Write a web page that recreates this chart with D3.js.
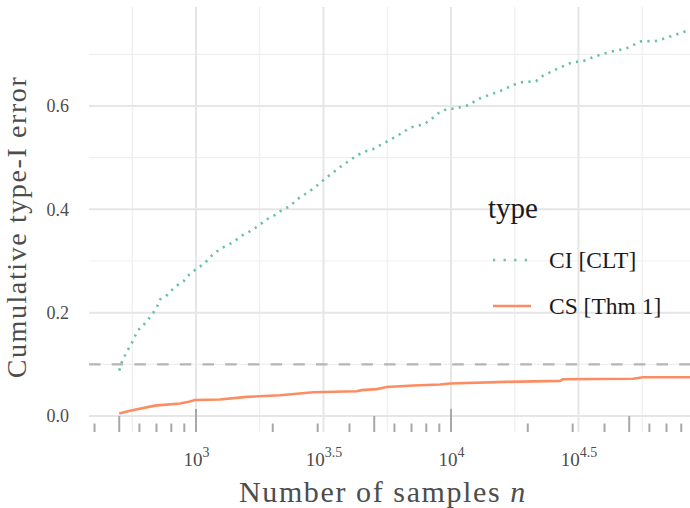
<!DOCTYPE html>
<html lang="en">
<head>
    <meta charset="UTF-8">
    <title>Cumulative type-I error</title>
    <script src="https://d3js.org/d3.v7.min.js"></script>
    <style>
        body{ margin: 0; background: #fff; }
        svg text{ font-family: "Liberation Serif", "DejaVu Serif", serif; }
        .grid-major{ stroke: #e6e6e6; stroke-width: 2; }
        .grid-minor{ stroke: #efefef; stroke-width: 1.2; }
    </style>
</head>
<body>
    <svg id='chart' width="690" height="508"></svg>

    <script>
        // data
        let ciN = [500, 514, 535, 560, 582, 609, 631, 666, 699, 724, 763, 805, 856, 895, 942,
            1006, 1078, 1138, 1213, 1273, 1384, 1524, 1653, 1765, 1903, 2041, 2180, 2337, 2484,
            2653, 2826, 3037, 3257, 3487, 3726, 3990, 4266, 4600, 4931, 5269, 5998, 6444, 6906,
            7855, 8397, 8910, 9610, 10370, 11800, 12610, 13510, 15420, 17660, 18930, 21530,
            23000, 26350, 29990, 32560, 37270, 42300, 48550, 55580, 64090, 72920, 83540, 88100]
        let ciRate = [0.088, 0.107, 0.124, 0.141, 0.159, 0.174, 0.179, 0.194, 0.208, 0.226, 0.232,
            0.244, 0.255, 0.261, 0.274, 0.285, 0.295, 0.308, 0.319, 0.326, 0.335, 0.350, 0.359,
            0.369, 0.381, 0.389, 0.399, 0.406, 0.419, 0.428, 0.437, 0.449, 0.462, 0.473, 0.484,
            0.494, 0.504, 0.512, 0.516, 0.524, 0.539, 0.548, 0.558, 0.565, 0.575, 0.586, 0.594,
            0.595, 0.602, 0.612, 0.618, 0.628, 0.641, 0.646, 0.648, 0.659, 0.673, 0.685, 0.686,
            0.697, 0.705, 0.711, 0.725, 0.726, 0.735, 0.745, 0.747]

        let csN = [500, 551, 690, 865, 947, 991, 1242, 1580, 2134, 2483, 2884, 4266, 4466, 5115,
            5601, 7118, 9057, 9910, 16300, 26730, 27480, 51760, 56630, 88100]
        let csRate = [0.005, 0.010, 0.020, 0.024, 0.028, 0.031, 0.032, 0.037, 0.040, 0.043, 0.046,
            0.048, 0.050, 0.052, 0.056, 0.059, 0.061, 0.063, 0.066, 0.068, 0.071, 0.072, 0.075, 0.075]

        let seriesNames = ["CI [CLT]", "CS [Thm 1]"]
        let seriesColors = ["#66c2a5", "#fc8d62"]
        let alpha = 0.1

        let yMajor = [0, 0.2, 0.4, 0.6]
        let yMinor = [0.1, 0.3, 0.5, 0.7]
        let xMajorExp = [3, 3.5, 4, 4.5]
        let xMinorExp = [2.75, 3.25, 3.75, 4.25, 4.75]

        // panel
        let pLeft = 89, pRight = 690, pTop = 7, pBottom = 432
        let svg = d3.select("#chart")

        let x = d3.scaleLog()
            .domain([Math.pow(10, 2.5804), Math.pow(10, 4.9373)])
            .range([pLeft, pRight])
        let y = d3.scaleLinear()
            .domain([-0.0310, 0.7916])
            .range([pBottom, pTop])

        let panel = svg.append("g")

        // gridlines
        panel.selectAll(".ymin").data(yMinor).join("line")
            .attr("class", "grid-minor")
            .attr("x1", pLeft).attr("x2", pRight)
            .attr("y1", d => y(d)).attr("y2", d => y(d))
        panel.selectAll(".xmin").data(xMinorExp).join("line")
            .attr("class", "grid-minor")
            .attr("x1", d => x(Math.pow(10, d))).attr("x2", d => x(Math.pow(10, d)))
            .attr("y1", pTop).attr("y2", pBottom)
        panel.selectAll(".ymaj").data(yMajor).join("line")
            .attr("class", "grid-major")
            .attr("x1", pLeft).attr("x2", pRight)
            .attr("y1", d => y(d)).attr("y2", d => y(d))
        panel.selectAll(".xmaj").data(xMajorExp).join("line")
            .attr("class", "grid-major")
            .attr("x1", d => x(Math.pow(10, d))).attr("x2", d => x(Math.pow(10, d)))
            .attr("y1", pTop).attr("y2", pBottom)

        // log ticks along the bottom
        let logTicks = []
        for (let k = 2; k <= 4; k++) {
            for (let m = 1; m <= 9; m++) {
                let v = m * Math.pow(10, k)
                if (v >= x.domain()[0] && v <= x.domain()[1]) logTicks.push({v: v, m: m})
            }
        }
        panel.selectAll(".logtick").data(logTicks).join("line")
            .attr("x1", d => x(d.v)).attr("x2", d => x(d.v))
            .attr("y1", d => d.m == 1 ? pBottom - 23 : (d.m == 5 ? pBottom - 16 : pBottom - 8.5))
            .attr("y2", pBottom)
            .attr("stroke", "#a8a8a8")
            .attr("stroke-width", 2)

        // nominal level
        panel.append("line")
            .attr("x1", pLeft).attr("x2", pRight)
            .attr("y1", y(alpha)).attr("y2", y(alpha))
            .attr("stroke", "#b5b5b5")
            .attr("stroke-width", 2.2)
            .attr("stroke-dasharray", "11.5,11.2")

        // series
        let line = d3.line()
            .x(d => x(d[0]))
            .y(d => y(d[1]))

        svg.append("clipPath").attr("id", "clip")
            .append("rect").attr("x", pLeft).attr("y", pTop)
            .attr("width", pRight - pLeft).attr("height", pBottom - pTop)

        let ciData = d3.zip(ciN, ciRate)
        let csData = d3.zip(csN, csRate)

        panel.append("path")
            .datum(ciData)
            .attr("clip-path", "url(#clip)")
            .attr("d", line)
            .attr("fill", "none")
            .attr("stroke", seriesColors[0])
            .attr("stroke-width", 2.6)
            .attr("stroke-dasharray", "2.2,5.3")

        panel.append("path")
            .datum(csData)
            .attr("clip-path", "url(#clip)")
            .attr("d", line)
            .attr("fill", "none")
            .attr("stroke", seriesColors[1])
            .attr("stroke-width", 2.6)

        // y axis labels
        let yAxis = svg.append("g")
            .attr("transform", "translate(" + (pLeft - 20) + ",0)")
            .call(d3.axisLeft(y).tickValues(yMajor).tickSize(0).tickFormat(d3.format(".1f")))
        yAxis.select(".domain").remove()
        yAxis.selectAll("text")
            .attr("x", 0)
            .attr("font-size", 18)
            .attr("fill", "#4d4d4d")

        // x axis labels with superscripts
        let xAxis = svg.append("g")
            .attr("transform", "translate(0," + (pBottom + 34) + ")")
            .call(d3.axisBottom(x).tickValues(xMajorExp.map(d => Math.pow(10, d))).tickSize(0).tickFormat(""))
        xAxis.select(".domain").remove()
        xAxis.selectAll(".tick text").remove()
        xAxis.selectAll(".tick").append("text")
            .attr("text-anchor", "middle")
            .attr("font-size", 19)
            .attr("fill", "#4d4d4d")
            .each(function(d){
                let e = Math.round(Math.log10(d) * 10) / 10
                let t = d3.select(this)
                t.append("tspan").text("10")
                t.append("tspan")
                    .attr("dy", -9)
                    .attr("font-size", 14)
                    .text(String(e))
            })

        // axis titles
        let xTitle = svg.append("text")
            .attr("x", 383)
            .attr("y", 502)
            .attr("text-anchor", "middle")
            .attr("font-size", 30)
            .attr("letter-spacing", 1.6)
            .attr("fill", "#4d4d4d")
        xTitle.append("tspan").text("Number of samples ")
        xTitle.append("tspan").attr("font-style", "italic").text("n")

        svg.append("text")
            .attr("transform", "translate(26,227) rotate(-90)")
            .attr("text-anchor", "middle")
            .attr("font-size", 28)
            .attr("letter-spacing", 1.6)
            .attr("fill", "#4d4d4d")
            .text("Cumulative type-I error")

        // legend
        let legend = svg.append("g")
        legend.append("text")
            .attr("x", 488).attr("y", 218)
            .attr("font-size", 29)
            .attr("fill", "#1a1a1a")
            .text("type")

        let keys = legend.selectAll(".key").data(seriesNames).join("g")
            .attr("transform", (d, i) => "translate(0," + (260 + i * 46) + ")")
        keys.append("line")
            .attr("x1", 493).attr("x2", 531)
            .attr("y1", 0).attr("y2", 0)
            .attr("stroke", (d, i) => seriesColors[i])
            .attr("stroke-width", 2.6)
            .attr("stroke-dasharray", (d, i) => i == 0 ? "2.2,8.4" : null)
        keys.append("text")
            .attr("x", 549).attr("y", 0)
            .attr("dy", "0.35em")
            .attr("font-size", 23.5)
            .attr("fill", "#1a1a1a")
            .text(d => d)
    </script>
</body>
</html>
